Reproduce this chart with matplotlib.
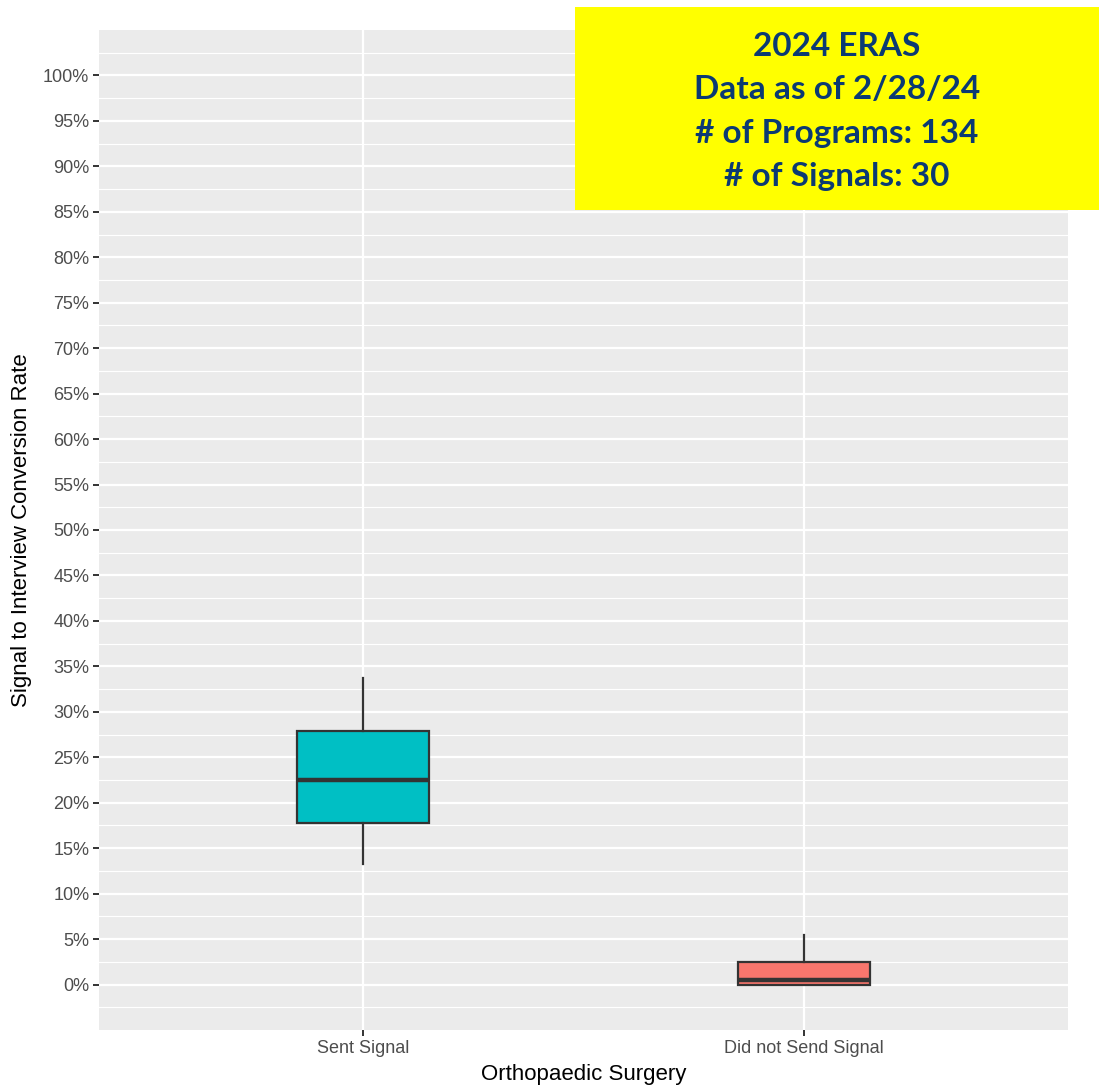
import numpy as np
import matplotlib.pyplot as plt
from matplotlib.patches import Rectangle
from matplotlib.ticker import FuncFormatter

plt.rcParams['font.family'] = ['Liberation Sans', 'DejaVu Sans']

# ---- data (conversion rate, %) ----
groups = ['Sent Signal', 'Did not Send Signal']
whisker_low = [13.3, 0.0]
q1 = [17.8, 0.0]
median = [22.5, 0.55]
q3 = [27.9, 2.45]
whisker_high = [33.7, 5.5]
fill_colors = ['#00BFC4', '#F8766D']

info_lines = ['2024 ERAS', 'Data as of 2/28/24', '# of Programs: 134', '# of Signals: 30']

# ---- figure ----
fig = plt.figure(figsize=(10.99, 10.87), dpi=100)
W, H = 1099, 1087
ax = fig.add_axes([99 / W, 1 - 1030 / H, (1068 - 99) / W, (1030 - 30) / H])
ax.set_facecolor('#EBEBEB')

stats = []
for i, g in enumerate(groups):
    stats.append({'label': g, 'whislo': whisker_low[i], 'q1': q1[i], 'med': median[i],
                  'q3': q3[i], 'whishi': whisker_high[i], 'fliers': []})

positions = np.arange(1, len(groups) + 1)
bp = ax.bxp(stats, positions=positions, widths=0.3, patch_artist=True, showcaps=False,
            boxprops=dict(edgecolor='#333333', linewidth=1.6),
            whiskerprops=dict(color='#333333', linewidth=1.6),
            medianprops=dict(color='#333333', linewidth=3.2, solid_capstyle='butt'),
            zorder=3)
for patch, c in zip(bp['boxes'], fill_colors):
    patch.set_facecolor(c)

# ---- axes styling (ggplot grey theme look) ----
ax.set_xlim(0.4, 2.6)
ax.set_ylim(-5, 105)
ax.set_yticks(np.arange(0, 101, 5))
ax.set_yticks(np.arange(-2.5, 105, 5), minor=True)
ax.yaxis.set_major_formatter(FuncFormatter(lambda v, p: f'{v:.0f}%'))
ax.set_xticks(positions)
ax.set_xticklabels(groups)

ax.grid(which='major', color='white', linewidth=1.6, zorder=0)
ax.grid(which='minor', axis='y', color='white', linewidth=0.8, zorder=0)
ax.set_axisbelow(True)
for s in ax.spines.values():
    s.set_visible(False)

ax.tick_params(axis='both', which='major', length=4, width=1.4, color='#333333',
               labelcolor='#4D4D4D', labelsize=13, pad=3)
ax.tick_params(axis='y', which='minor', length=0)

ax.set_ylabel('Signal to Interview Conversion Rate', fontsize=16, color='black', labelpad=8)
ax.set_xlabel('Orthopaedic Surgery', fontsize=16, color='black', labelpad=5)

# ---- yellow info box ----
fig.patches.append(Rectangle((575 / W, 1 - 210 / H), (W - 575) / W, (210 - 7) / H,
                             transform=fig.transFigure, facecolor='#FFFF00',
                             edgecolor='none', zorder=10))
y0 = 46
for k, line in enumerate(info_lines):
    fig.text(837 / W, 1 - (y0 + k * 43.5) / H, line, ha='center', va='center',
             fontsize=24, fontweight='bold', family='Lato', color='#0B3A73', zorder=11)

fig.savefig('out.png', dpi=100)
